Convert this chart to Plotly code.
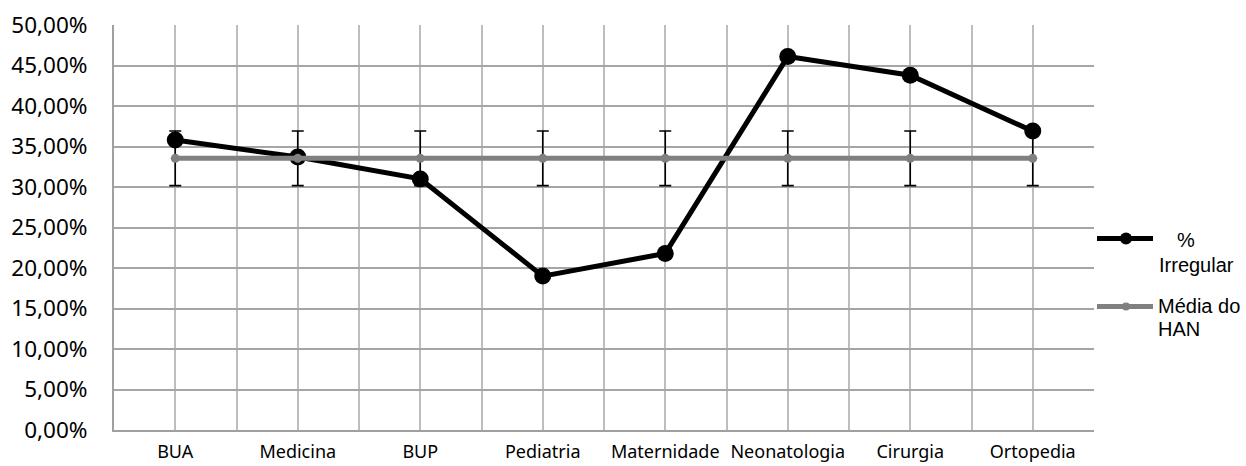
import plotly.graph_objects as go

# Data
categories = ["BUA", "Medicina", "BUP", "Pediatria", "Maternidade",
              "Neonatologia", "Cirurgia", "Ortopedia"]
irregular = [0.358, 0.337, 0.310, 0.190, 0.218, 0.461, 0.438, 0.369]
media_han = [0.3354] * 8
erro_media = [0.0337] * 8

y_ticks = [0.0, 0.05, 0.10, 0.15, 0.20, 0.25, 0.30, 0.35, 0.40, 0.45, 0.50]

# Layout geometry (pixels)
W, H = 1246, 466
L, R, T, B = 114, 1094, 25, 430


def px(xp):
    return (xp - L) / (R - L)


def py(yp):
    return (B - yp) / (B - T)


xs = list(range(len(categories)))

fig = go.Figure()

fig.add_trace(go.Scatter(
    x=xs, y=irregular, mode="lines+markers", name="% Irregular",
    line=dict(color="#000000", width=5),
    marker=dict(color="#000000", size=17),
    showlegend=False,
))

fig.add_trace(go.Scatter(
    x=xs, y=media_han, mode="lines+markers", name="Média do HAN",
    line=dict(color="#808080", width=5),
    marker=dict(color="#808080", size=9),
    error_y=dict(type="data", array=erro_media, visible=True,
                 color="#000000", thickness=1.6, width=6),
    showlegend=False,
))

half_steps = [i - 0.5 for i in range(len(categories) + 1)]

fig.update_layout(
    width=W, height=H,
    margin=dict(l=L, r=W - R, t=T, b=H - B, pad=0, autoexpand=False),
    paper_bgcolor="white", plot_bgcolor="white",
    separators=",.",
    xaxis=dict(
        range=[-0.5, len(categories) - 0.5],
        tickvals=xs, ticktext=categories,
        showgrid=True, gridcolor="#bdbdbd", gridwidth=2,
        minor=dict(tickvals=half_steps, showgrid=True,
                   gridcolor="#bdbdbd", gridwidth=2),
        showline=True, linecolor="#a0a0a0", linewidth=2,
        zeroline=False, ticks="", automargin=False,
        ticklabelstandoff=4,
        tickfont=dict(family="Noto Sans", size=18, color="#000000"),
        fixedrange=True,
    ),
    yaxis=dict(
        range=[0, 0.5], tickvals=y_ticks, tickformat=".2%",
        showgrid=True, gridcolor="#a6a6a6", gridwidth=2,
        showline=True, linecolor="#a0a0a0", linewidth=2,
        zeroline=False, ticks="", automargin=False,
        ticklabelstandoff=20,
        tickfont=dict(family="Noto Sans", size=22.5, color="#000000"),
        fixedrange=True,
    ),
)

# Legend drawn at the right of the plot area
legend_items = [
    dict(color="#000000", y=238.5, dot=12, lines=[("%", 1175, 240), ("Irregular", 1157, 265)]),
    dict(color="#808080", y=306.5, dot=8, lines=[("Média do", 1156, 306), ("HAN", 1156, 329)]),
]
for item in legend_items:
    fig.add_shape(type="line", xref="paper", yref="paper",
                  x0=px(1097), x1=px(1153), y0=py(item["y"]), y1=py(item["y"]),
                  line=dict(color=item["color"], width=5))
    r = item["dot"] / 2
    fig.add_shape(type="circle", xref="paper", yref="paper",
                  x0=px(1126 - r), x1=px(1126 + r),
                  y0=py(item["y"] + r), y1=py(item["y"] - r),
                  fillcolor=item["color"], line=dict(width=0))
    for text, xl, yc in item["lines"]:
        fig.add_annotation(text=text, xref="paper", yref="paper",
                           x=px(xl), y=py(yc), xanchor="left", yanchor="middle",
                           showarrow=False,
                           font=dict(family="Liberation Sans, Arial", size=20,
                                     color="#000000"))

fig.write_html("out.html")
